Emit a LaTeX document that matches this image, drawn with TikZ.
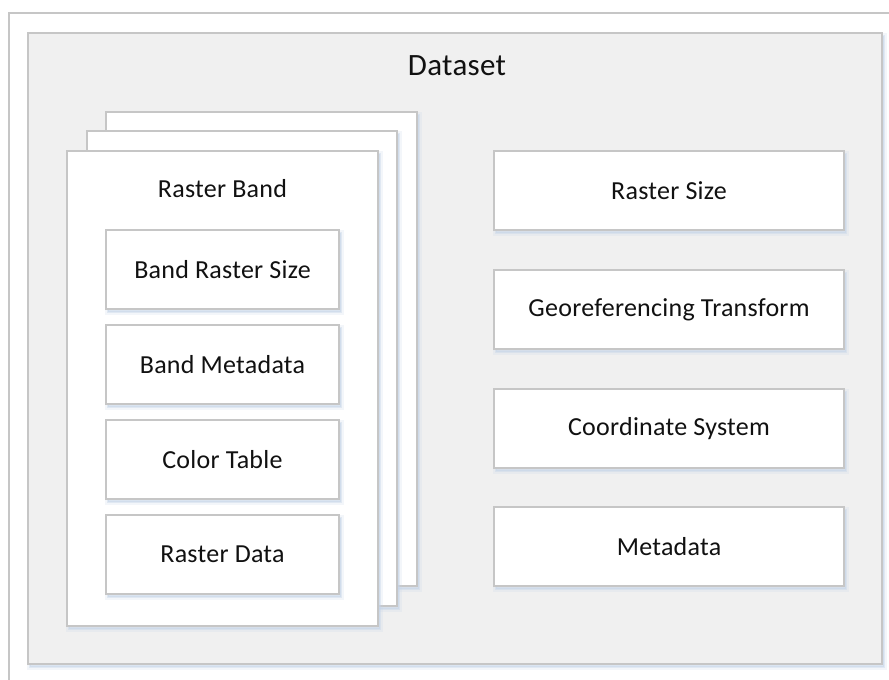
\documentclass[tikz,border=0pt]{standalone}
\usepackage{fontspec}
\setmainfont{Carlito}[LetterSpace=1]
\definecolor{edgegray}{HTML}{C6C6C6}
\definecolor{panelgray}{HTML}{F0F0F0}
\definecolor{shadowblue}{HTML}{C5D4E8}
\definecolor{ink}{HTML}{111111}
\tikzset{
  softshadow/.style={
    preaction={fill=shadowblue, draw=shadowblue, line width=6pt, opacity=0.2,
      transform canvas={shift={(2pt,-3pt)}}},
    preaction={fill=shadowblue, draw=shadowblue, line width=2.5pt, opacity=0.4,
      transform canvas={shift={(2pt,-3pt)}}}},
  panel/.style={draw=edgegray, line width=1.6pt, fill=panelgray, softshadow,
    inner sep=0pt},
  card/.style={draw=edgegray, line width=1.6pt, fill=white, softshadow,
    inner sep=0pt},
  bandbox/.style={card, minimum width=233pt, minimum height=79pt,
    font=\fontsize{26}{30}\selectfont, text=ink},
  dsbox/.style={card, minimum width=350pt, minimum height=79pt,
    font=\fontsize{26}{30}\selectfont, text=ink},
  caption/.style={text=ink, inner sep=0pt, anchor=base}
}
\begin{document}
\begin{tikzpicture}[x=1pt, y=-1pt]
  \useasboundingbox (0,0) rectangle (889,680);
  % outer frame, only its top and left sides fall inside the page
  \draw[edgegray, line width=1.6pt] (9,680) -- (9,13) -- (889,13);

  % dataset panel
  \node[panel, minimum width=854pt, minimum height=631pt] (dataset) at (455,348.5) {};
  \node[caption, font=\fontsize{31}{36}\selectfont] (dstitle) at (457,75) {Dataset};

  % stacked raster band cards
  \node[card, minimum width=311pt, minimum height=474pt] (band3) at (261.5,349) {};
  \node[card, minimum width=310pt, minimum height=475pt] (band2) at (242,368.5) {};
  \node[card, minimum width=311pt, minimum height=475pt] (band1) at (222.5,388.5) {};
  \node[caption, font=\fontsize{26}{30}\selectfont] (bandtitle) at (222.5,197) {Raster Band};

  % contents of a raster band
  \node[bandbox] (brs) at (222.5,269.5) {Band Raster Size};
  \node[bandbox] (bmd) at (222.5,364.5) {Band Metadata};
  \node[bandbox] (ctab) at (222.5,459.5) {Color Table};
  \node[bandbox] (rdata) at (222.5,554.5) {Raster Data};

  % dataset-level properties
  \node[dsbox] (rsize) at (669,190.5) {Raster Size};
  \node[dsbox] (geo) at (669,309.5) {Georeferencing Transform};
  \node[dsbox] (crs) at (669,428.5) {Coordinate System};
  \node[dsbox] (meta) at (669,546.5) {Metadata};
\end{tikzpicture}
\end{document}
